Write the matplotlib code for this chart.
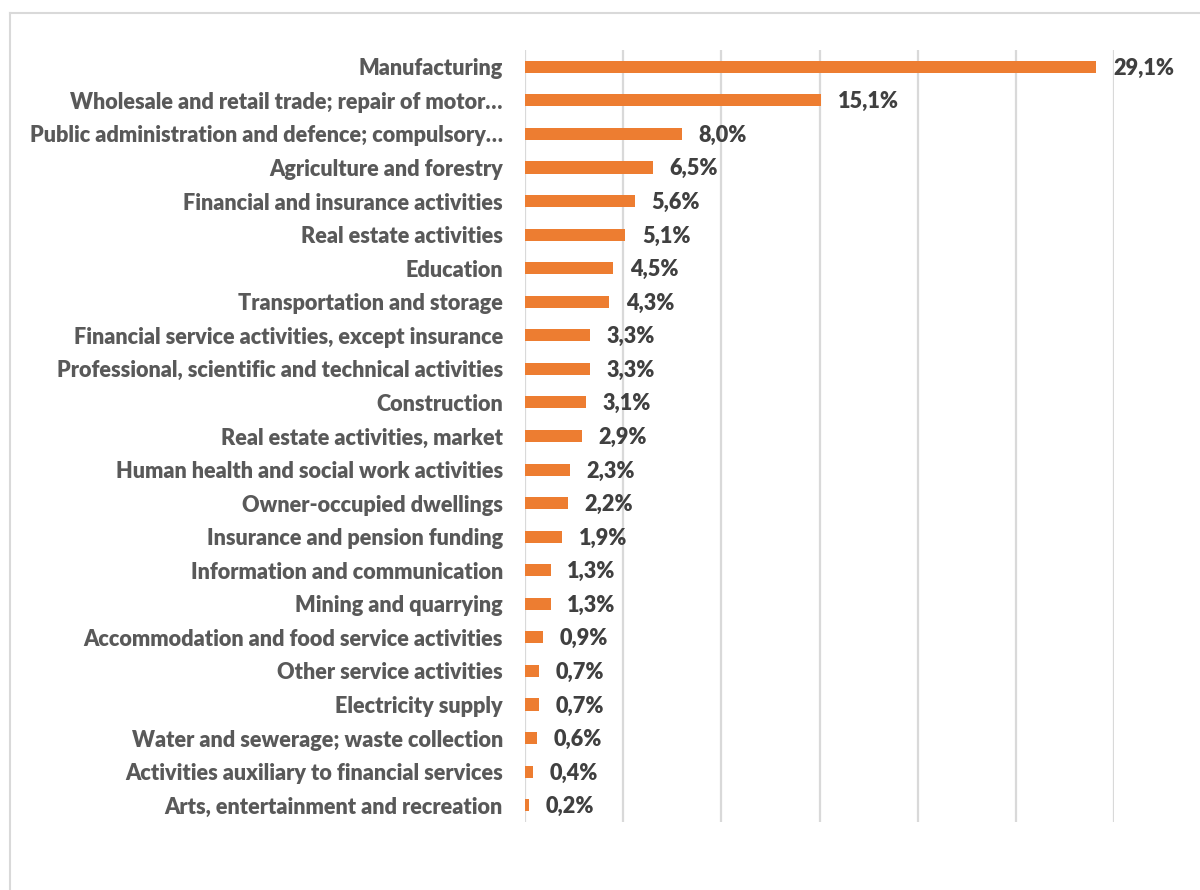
import matplotlib.pyplot as plt
from matplotlib.lines import Line2D

# Share of value added by industry
industries = [
    "Manufacturing",
    "Wholesale and retail trade; repair of motor\u2026",
    "Public administration and defence; compulsory\u2026",
    "Agriculture and forestry",
    "Financial and insurance activities",
    "Real estate activities",
    "Education",
    "Transportation and storage",
    "Financial service activities, except insurance",
    "Professional, scientific and technical activities",
    "Construction",
    "Real estate activities, market",
    "Human health and social work activities",
    "Owner-occupied dwellings",
    "Insurance and pension funding",
    "Information and communication",
    "Mining and quarrying",
    "Accommodation and food service activities",
    "Other service activities",
    "Electricity supply",
    "Water and sewerage; waste collection",
    "Activities auxiliary to financial services",
    "Arts, entertainment and recreation",
]
shares = [29.1, 15.1, 8.0, 6.5, 5.6, 5.1, 4.5, 4.3, 3.3, 3.3, 3.1, 2.9, 2.3,
          2.2, 1.9, 1.3, 1.3, 0.9, 0.7, 0.7, 0.6, 0.4, 0.2]
grid_ticks = [0, 5, 10, 15, 20, 25, 30]

plt.rcParams['font.family'] = ['Lato', 'DejaVu Sans']

fig = plt.figure(figsize=(12, 8.9), dpi=100)
ax = fig.add_axes([525 / 1200, 1 - 822 / 890, (1114 - 525) / 1200, (822 - 50) / 890])

y = list(range(len(industries)))
ax.barh(y, shares, height=0.36, color='#ED7D31', zorder=3)

ax.set_xlim(0, 30)
ax.set_ylim(len(industries) - 0.5, -0.5)
ax.set_xticks(grid_ticks)
ax.set_xticklabels([])
ax.tick_params(axis='x', length=0)
ax.tick_params(axis='y', length=0, pad=16)
ax.set_yticks(y)
ax.set_yticklabels(industries, fontsize=15.6, fontweight='heavy', color='#595959')
ax.grid(axis='x', color='#D9D9D9', linewidth=1.6, zorder=0)
for s in ['top', 'right', 'bottom', 'left']:
    ax.spines[s].set_visible(False)

for yi, v in zip(y, shares):
    ax.annotate(f"{v:.1f}%".replace('.', ','), (v, yi), xytext=(12, -1),
                textcoords='offset points', va='center', ha='left',
                fontsize=15.6, fontweight='heavy', color='#404040')

# outer frame (top and left only)
fig.add_artist(Line2D([10 / 1200, 10 / 1200], [0, 1 - 13 / 890],
                      transform=fig.transFigure, color='#D9D9D9', linewidth=1.5))
fig.add_artist(Line2D([10 / 1200, 1], [1 - 13 / 890, 1 - 13 / 890],
                      transform=fig.transFigure, color='#D9D9D9', linewidth=1.5))

fig.savefig('out.png', dpi=100)
